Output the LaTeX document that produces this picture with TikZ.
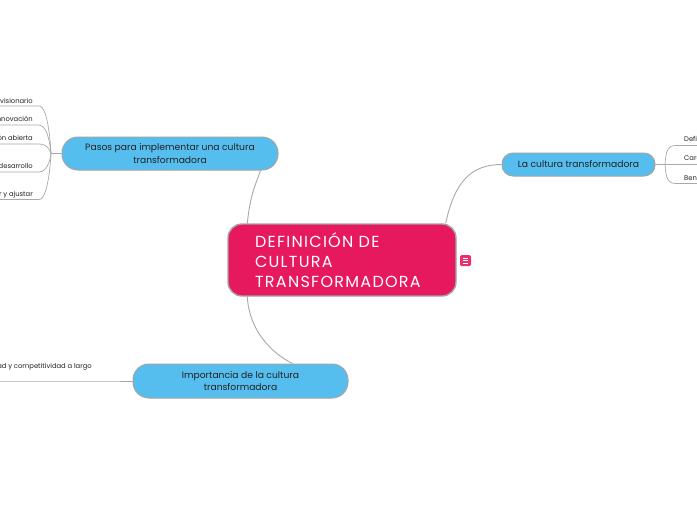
\documentclass[tikz,border=0pt]{standalone}
\usepackage{fontspec}
\setmainfont{Poppins}
\newfontfamily\rootfont[LetterSpace=8]{Poppins}
\usetikzlibrary{calc}
\definecolor{rootpink}{HTML}{E6195E}
\definecolor{iconpink}{HTML}{E8306C}
\definecolor{nodeblue}{HTML}{56BEEE}
\definecolor{edgegray}{HTML}{A9A9A9}
\definecolor{bordergray}{HTML}{A4A4A4}
\definecolor{textdark}{HTML}{222222}
\tikzset{
  rootbox/.style={draw=bordergray, line width=1.4pt, fill=rootpink, rounded corners=14pt,
    minimum width=228pt, minimum height=72pt, text width=174pt, inner xsep=27pt,
    align=left, text=white, font=\rootfont\fontsize{16}{20}\selectfont},
  topicbox/.style={draw=bordergray, line width=1pt, fill=nodeblue, rounded corners=11pt,
    inner sep=0pt, align=center, text=textdark, font=\fontsize{9.2}{12.5}\selectfont},
  leaftext/.style={inner sep=0pt, text=textdark, font=\fontsize{6.8}{8}\selectfont},
  edge/.style={draw=edgegray, line width=0.9pt},
  leafedge/.style={draw=edgegray, line width=0.7pt}
}
\begin{document}
\begin{tikzpicture}[x=1pt,y=-1pt]
\useasboundingbox (0,0) rectangle (697,520);
\clip (0,0) rectangle (697,520);
\fill[white] (0,0) rectangle (697,520);

% root
\node[rootbox] (root) at (342,260) {DEFINICIÓN DE\\CULTURA\\TRANSFORMADORA};
\node[fill=iconpink, rounded corners=1.5pt, minimum width=11pt, minimum height=11pt, inner sep=0pt] (icon) at (465.5,260.5) {};
\draw[white, line width=0.8pt] ($(icon.center)+(-2.8,-2.4)$) -- ++(5.6,0)
  ($(icon.center)+(-2.8,0)$) -- ++(5.6,0)
  ($(icon.center)+(-2.8,2.4)$) -- ++(5.6,0);

% topics
\node[topicbox, minimum width=216pt, minimum height=33pt, rounded corners=16pt] (pasos) at (170,153.5) {Pasos para implementar una cultura\\transformadora};
\node[topicbox, minimum width=153pt, minimum height=23pt] (lacult) at (578.5,164.5) {La cultura transformadora};
\node[topicbox, minimum width=215pt, minimum height=34pt, rounded corners=16pt] (impo) at (240.5,381) {Importancia de la cultura\\transformadora};

% main connectors
\draw[edge] ($(root.north west)+(20,0)$) .. controls ($(root.north west)+(23,-30)$) and ($(pasos.south east)+(-22,12)$) .. ($(pasos.south east)+(-18,0)$);
\draw[edge] ($(root.north east)+(-11,0)$) .. controls ($(root.north east)+(-2,-42)$) and ($(lacult.west)+(-30,0)$) .. (lacult.west);
\draw[edge] ($(root.south west)+(20,0)$) .. controls ($(root.south west)+(22,35)$) and ($(impo.north west)+(140,-10)$) .. ($(impo.north west)+(160,0)$);

% left leaves of pasos
\coordinate (jl) at (51,153.5);
\draw[leafedge] (pasos.west) -- (jl);
\node[leaftext, anchor=base east] (l1) at (33,103) {Liderazgo visionario};
\node[leaftext, anchor=base east] (l2) at (33,121) {Fomentar la innovación};
\node[leaftext, anchor=base east] (l3) at (33,140) {Comunicación abierta};
\node[leaftext, anchor=base east] (l4) at (33,168.5) {Capacitación y desarrollo};
\node[leaftext, anchor=base east] (l5) at (33,196.5) {Evaluar y ajustar};
\foreach \i/\y in {1/106,2/125,3/144,4/172,5/199.5}{
  \coordinate (ua\i) at (-5,\y);
  \coordinate (ub\i) at (39,\y);
  \draw[leafedge] (ua\i) -- (ub\i) .. controls ($(ub\i)+(10,0)$) and ($(jl)+(0,0)$) .. (jl);
}

% right leaves of la cultura
\coordinate (jr) at (665,164.5);
\draw[leafedge] (lacult.east) -- (jr);
\node[leaftext, anchor=base west] (r1) at (684,141) {Definición};
\node[leaftext, anchor=base west] (r2) at (684,160.5) {Características};
\node[leaftext, anchor=base west] (r3) at (684,180) {Beneficios};
\coordinate (rb1) at (676,145.5);
\coordinate (rb2) at (676,164.5);
\coordinate (rb3) at (676,183.5);
\coordinate (re1) at (705,145.5);
\coordinate (re2) at (705,164.5);
\coordinate (re3) at (705,183.5);
\draw[leafedge] (jr) .. controls (666,150) and (668,145.5) .. (rb1) -- (re1);
\draw[leafedge] (jr) -- (re2);
\draw[leafedge] (jr) .. controls (666,179) and (668,183.5) .. (rb3) -- (re3);

% leaf of importancia
\node[leaftext, anchor=base east] (i1) at (92,368) {Sostenibilidad y competitividad a largo};
\coordinate (ia) at (-5,381);
\coordinate (ib) at (107,381);
\draw[leafedge] (ia) -- (ib) -- (impo.west);
\end{tikzpicture}
\end{document}
